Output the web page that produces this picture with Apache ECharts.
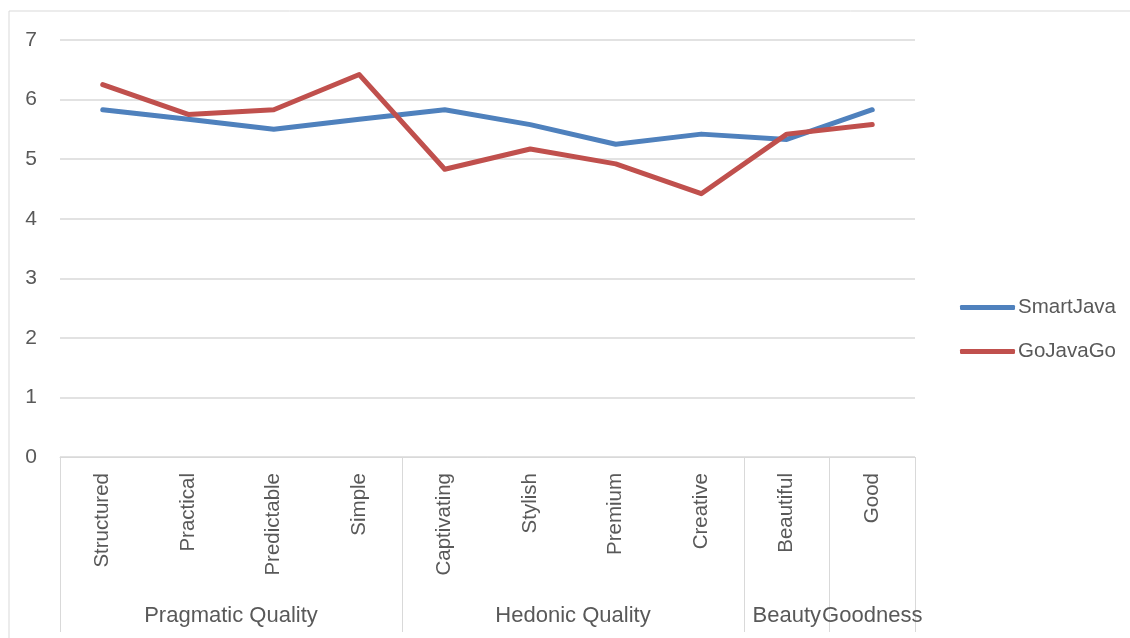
<!DOCTYPE html>
<html>
<head>
<meta charset="utf-8">
<script src="https://cdn.jsdelivr.net/npm/echarts@6/dist/echarts.min.js"></script>
<style>
  html, body { margin: 0; padding: 0; background: #fff; }
  #chart { width: 1130px; height: 638px; }
</style>
</head>
<body>
<div id="chart"></div>
<script>
// UX questionnaire item means per product
const categories = ['Structured', 'Practical', 'Predictable', 'Simple', 'Captivating', 'Stylish', 'Premium', 'Creative', 'Beautiful', 'Good'];
const smartJava = [5.83, 5.67, 5.50, 5.67, 5.83, 5.58, 5.25, 5.42, 5.33, 5.83];
const goJavaGo  = [6.25, 5.75, 5.83, 6.42, 4.83, 5.17, 4.92, 4.42, 5.42, 5.58];

// Item groups: name and how many items each covers
const groupNames = ['Pragmatic Quality', 'Hedonic Quality', 'Beauty', 'Goodness'];
const groupSizes = [4, 4, 1, 1];

const yTicks = [0, 1, 2, 3, 4, 5, 6, 7];

// Group boundaries and centres in item units
const bounds = [0];
groupSizes.forEach(s => bounds.push(bounds[bounds.length - 1] + s));
const centres = groupSizes.map((s, i) => bounds[i] + s / 2);

const FONT = 'Liberation Sans';
const TEXT = '#595959';
const GRID = '#D9D9D9';

const chart = echarts.init(document.getElementById('chart'));
chart.setOption({
  animation: false,
  textStyle: { fontFamily: FONT, color: TEXT },
  graphic: [{
    type: 'rect',
    shape: { x: 9, y: 11, width: 1140, height: 700 },
    style: { fill: 'none', stroke: GRID, lineWidth: 1 },
    silent: true
  }],
  grid: { left: 60, right: 215, top: 40, bottom: 181 },
  legend: {
    orient: 'vertical',
    left: 955,
    top: 292,
    itemWidth: 55,
    itemHeight: 5,
    itemGap: 23,
    icon: 'roundRect',
    textStyle: { fontFamily: FONT, fontSize: 20.5, color: TEXT, padding: [0, 0, 0, -2] },
    data: ['SmartJava', 'GoJavaGo']
  },
  xAxis: [{
    type: 'category',
    data: categories,
    boundaryGap: true,
    axisLine: { show: true, lineStyle: { color: GRID, width: 1 } },
    axisTick: { show: false },
    axisLabel: {
      rotate: 90, margin: 16, interval: 0,
      fontFamily: FONT, fontSize: 20.5, color: TEXT
    },
    splitLine: { show: false }
  }, {
    type: 'value',
    position: 'bottom',
    min: 0,
    max: categories.length,
    axisLine: { show: false },
    axisTick: {
      show: true, length: 175, customValues: bounds,
      lineStyle: { color: GRID, width: 1 }
    },
    axisLabel: {
      show: true, customValues: centres, margin: 148,
      fontFamily: FONT, fontSize: 22, color: TEXT,
      formatter: v => {
        const i = centres.findIndex(c => Math.abs(c - v) < 1e-6);
        return i >= 0 ? groupNames[i] : '';
      }
    },
    splitLine: { show: false }
  }],
  yAxis: {
    type: 'value',
    min: yTicks[0],
    max: yTicks[yTicks.length - 1],
    interval: 1,
    axisLine: { show: false },
    axisTick: { show: false },
    axisLabel: { margin: 23, fontFamily: FONT, fontSize: 21, color: TEXT },
    splitLine: { lineStyle: { color: GRID, width: 1.5 } }
  },
  series: [{
    name: 'SmartJava',
    type: 'line',
    data: smartJava,
    symbol: 'none',
    color: '#4F81BD',
    lineStyle: { width: 5, cap: 'round', join: 'round' }
  }, {
    name: 'GoJavaGo',
    type: 'line',
    data: goJavaGo,
    symbol: 'none',
    color: '#C0504D',
    lineStyle: { width: 5, cap: 'round', join: 'round' }
  }]
});
</script>
</body>
</html>
